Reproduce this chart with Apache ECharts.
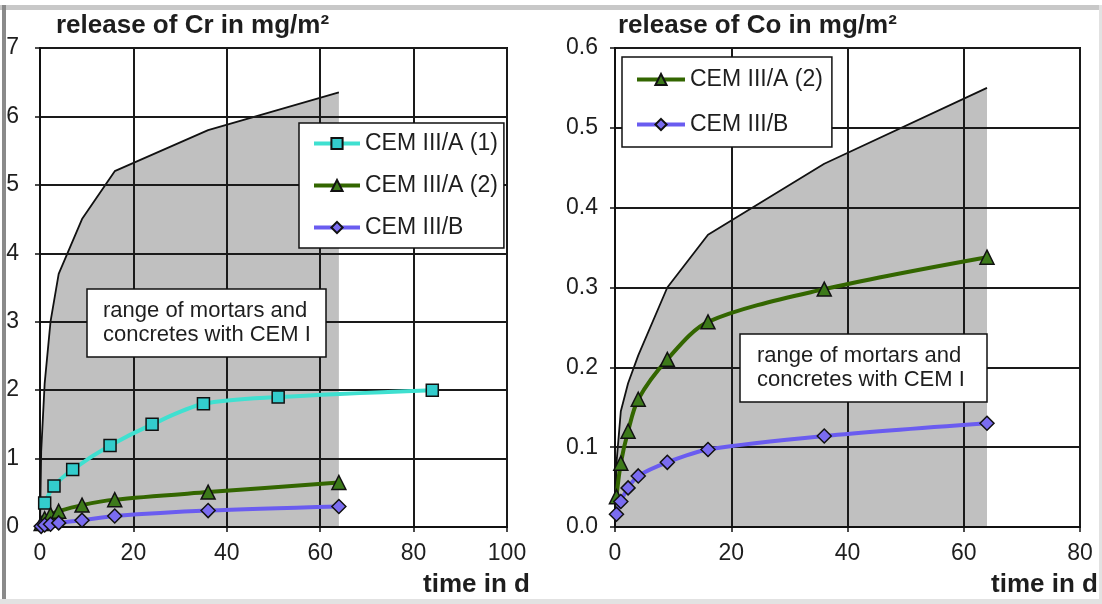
<!DOCTYPE html>
<html><head><meta charset="utf-8">
<script src="https://cdn.jsdelivr.net/npm/echarts@6/dist/echarts.min.js"></script>
<style>html,body{margin:0;padding:0;background:#fff}#c{width:1102px;height:604px}</style>
</head><body><div id="c"></div>
<script>
// ---- data: Cr (left chart) ----
const crRangeT   = [0, 0.25, 1, 2.25, 4, 9, 16, 36, 64];
const crRangeV   = [0, 1.1, 2.1, 3.0, 3.7, 4.5, 5.2, 5.8, 6.35];
const crA1T      = [1, 3, 7, 15, 24, 35, 51, 84];
const crA1V      = [0.35, 0.6, 0.84, 1.19, 1.5, 1.8, 1.9, 2.0];
const crA2T      = [0.25, 1, 2.25, 4, 9, 16, 36, 64];
const crA2V      = [0.05, 0.12, 0.18, 0.23, 0.32, 0.4, 0.51, 0.65];
const crBT       = [0.25, 1, 2.25, 4, 9, 16, 36, 64];
const crBV       = [0.01, 0.03, 0.04, 0.06, 0.1, 0.16, 0.24, 0.3];
// ---- data: Co (right chart) ----
const coRangeT   = [0, 0.25, 1, 2.25, 4, 9, 16, 36, 64];
const coRangeV   = [0, 0.08, 0.145, 0.18, 0.215, 0.3, 0.366, 0.455, 0.55];
const coA2T      = [0.25, 1, 2.25, 4, 9, 16, 36, 64];
const coA2V      = [0.038, 0.08, 0.12, 0.16, 0.21, 0.257, 0.298, 0.338];
const coBT       = [0.25, 1, 2.25, 4, 9, 16, 36, 64];
const coBV       = [0.016, 0.032, 0.049, 0.064, 0.081, 0.097, 0.114, 0.13];
// ---- labels ----
const names = ['CEM III/A (1)', 'CEM III/A (2)', 'CEM III/B'];
const rangeLabel = 'range of mortars and\nconcretes with CEM I';
const titleCr = 'release of Cr in mg/m²';
const titleCo = 'release of Co in mg/m²';
const xName = 'time in d';

const pair = (t, v) => t.map((x, i) => [x, v[i]]);
const FONT = '"Liberation Sans", Arial, sans-serif';
const TXT = '#1e1e1e';

const colA1 = '#3fe0d0', colA2 = '#336600', colB = '#6a5cf0';

function axisX(gi, max) {
  return {
    type: 'value', gridIndex: gi, min: 0, max: max, interval: 20, z: 2,
    axisLine: { show: true, onZero: false, lineStyle: { color: '#111', width: 2 } },
    axisTick: { show: true, length: 5, lineStyle: { color: '#111', width: 1.5 } },
    axisLabel: { margin: 15, fontSize: 23, fontFamily: FONT, color: TXT },
    splitLine: { show: true, lineStyle: { color: '#1a1a1a', width: 2 } }
  };
}
function axisY(gi, max, interval, fmt, margin) {
  return {
    type: 'value', gridIndex: gi, min: 0, max: max, interval: interval, z: 2,
    axisLine: { show: true, onZero: false, lineStyle: { color: '#111', width: 2 } },
    axisTick: { show: true, length: 5, lineStyle: { color: '#111', width: 1.5 } },
    axisLabel: { margin: margin, fontSize: 23, fontFamily: FONT, color: TXT, formatter: fmt },
    splitLine: { show: true, lineStyle: { color: '#1a1a1a', width: 2 } }
  };
}
function rangeSeries(gi, data) {
  return {
    type: 'line', xAxisIndex: gi, yAxisIndex: gi, data: data, z: 1,
    symbol: 'none', smooth: false, silent: true,
    lineStyle: { color: '#111', width: 1.8 },
    areaStyle: { color: '#c0c0c0', opacity: 1 }
  };
}
function dataSeries(gi, name, data, color, fill, symbol, size) {
  return {
    type: 'line', name: name, xAxisIndex: gi, yAxisIndex: gi, data: data, z: 3,
    smooth: 0.3, symbol: symbol, symbolSize: size, showAllSymbol: true,
    lineStyle: { color: color, width: 4 },
    itemStyle: { color: fill, borderColor: '#111', borderWidth: 1.5 }
  };
}
const legendText = { fontSize: 23, fontFamily: FONT, color: TXT };
const boxTitle = (left, top, pad) => ({
  text: rangeLabel, left: left, top: top, padding: pad,
  backgroundColor: '#fff', borderColor: '#111', borderWidth: 1.5,
  textStyle: { fontSize: 22, fontWeight: 'normal', fontFamily: FONT, color: TXT, lineHeight: 24 }
});
const boldTitle = (text, pos) => Object.assign({
  text: text, padding: 0,
  textStyle: { fontSize: 26, fontWeight: 'bold', fontFamily: FONT, color: TXT }
}, pos);

const chart = echarts.init(document.getElementById('c'), null, { renderer: 'canvas' });
chart.setOption({
  animation: false,
  backgroundColor: '#fff',
  grid: [
    { left: 40, top: 48, width: 467, height: 479, show: true, borderColor: '#111', borderWidth: 2, backgroundColor: 'transparent' },
    { left: 615, top: 48, width: 465, height: 479, show: true, borderColor: '#111', borderWidth: 2, backgroundColor: 'transparent' }
  ],
  xAxis: [axisX(0, 100), axisX(1, 80)],
  yAxis: [
    axisY(0, 7, 1, v => String(v), 21),
    axisY(1, 0.6, 0.1, v => v.toFixed(1), 17)
  ],
  title: [
    boldTitle(titleCr, { left: 56, top: 13 }),
    boldTitle(titleCo, { left: 618, top: 13 }),
    boldTitle(xName, { right: 572, top: 572 }),
    boldTitle(xName, { right: 4, top: 572 }),
    boxTitle(87, 289, [10, 15, 10, 16]),
    boxTitle(740, 334, [10, 22, 10, 17])
  ],
  legend: [
    {
      data: names, orient: 'vertical', left: 299, top: 123,
      padding: [9, 6, 9, 13], itemGap: 19, itemWidth: 46, itemHeight: 14, itemTextGap: 4,
      backgroundColor: '#fff', borderColor: '#111', borderWidth: 1.5, borderRadius: 0,
      lineStyle: { width: 4 },
      textStyle: legendText, selectedMode: false
    },
    {
      data: [names[1], names[2]], orient: 'vertical', left: 622, top: 57,
      padding: [11, 9, 11, 13], itemGap: 22, itemWidth: 48, itemHeight: 14, itemTextGap: 3,
      backgroundColor: '#fff', borderColor: '#111', borderWidth: 1.5, borderRadius: 0,
      lineStyle: { width: 4 },
      textStyle: legendText, selectedMode: false
    }
  ],
  series: [
    rangeSeries(0, pair(crRangeT, crRangeV)),
    dataSeries(0, names[0], pair(crA1T, crA1V), colA1, '#33cccc', 'rect', 12),
    dataSeries(0, names[1], pair(crA2T, crA2V), colA2, '#3d7a1a', 'triangle', 14),
    dataSeries(0, names[2], pair(crBT, crBV), colB, '#7a6cf0', 'diamond', 14),
    rangeSeries(1, pair(coRangeT, coRangeV)),
    dataSeries(1, names[1], pair(coA2T, coA2V), colA2, '#3d7a1a', 'triangle', 14),
    dataSeries(1, names[2], pair(coBT, coBV), colB, '#7a6cf0', 'diamond', 14)
  ],
  graphic: [
    { type: 'rect', z: 100, silent: true, shape: { x: 0, y: 5, width: 1102, height: 5 }, style: { fill: '#c8c8c8' } },
    { type: 'rect', z: 100, silent: true, shape: { x: 2, y: 5, width: 4, height: 599 }, style: { fill: '#8a8a8a' } },
    { type: 'rect', z: 100, silent: true, shape: { x: 0, y: 599, width: 1102, height: 5 }, style: { fill: '#e2e2e2' } },
    { type: 'rect', z: 100, silent: true, shape: { x: 1099, y: 5, width: 3, height: 599 }, style: { fill: '#e2e2e2' } }
  ]
});
</script>
</body></html>
